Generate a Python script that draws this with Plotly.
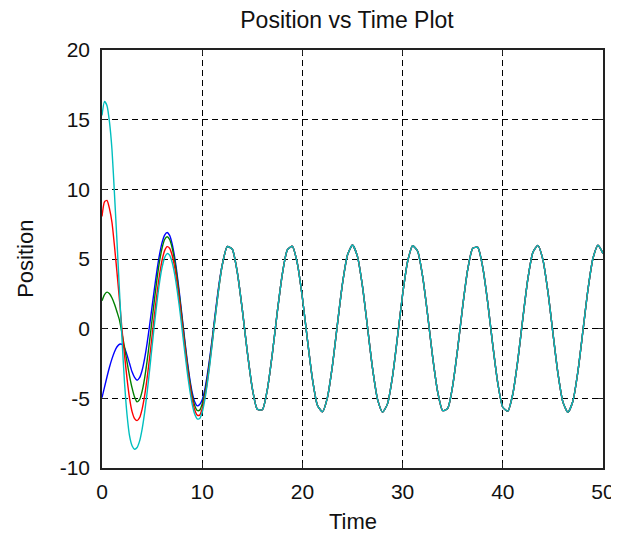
import numpy as np
import plotly.graph_objects as go

# sample times
t_head = [round(0.25 * i, 2) for i in range(48)]        # 0 .. 11.75
t_tail = [round(12.0 + 0.5 * i, 2) for i in range(77)]  # 12 .. 50

# transient part of each run (step 0.25)
blue_head = [-4.95, -4.2, -3.45, -2.75, -2.15, -1.65, -1.3, -1.12,
             -1.12, -1.4, -1.9, -2.5, -3.1, -3.5, -3.7, -3.52,
             -3.0, -2.15, -1.05, 0.23, 1.6, 2.97, 4.25, 5.35,
             6.19, 6.72, 6.9, 6.69, 6.09, 5.13, 3.88, 2.41,
             0.84, -0.75, -2.25, -3.55, -4.58, -5.25, -5.54, -5.45,
             -5.1, -4.4, -3.35, -2.1, -0.7, 0.8, 2.25, 3.55]
green_head = [2.0, 2.45, 2.62, 2.5, 2.2, 1.75, 1.2, 0.6,
              -0.35, -1.35, -2.4, -3.4, -4.25, -4.9, -5.25, -5.1,
              -4.5, -3.56, -2.33, -0.89, 0.65, 2.19, 3.63, 4.86,
              5.8, 6.4, 6.6, 6.4, 5.81, 4.88, 3.66, 2.22,
              0.67, -0.91, -2.41, -3.72, -4.79, -5.51, -5.87, -5.85,
              -5.4, -4.65, -3.6, -2.3, -0.85, 0.65, 2.1, 3.45]
red_head = [8.05, 9.1, 9.2, 8.6, 7.6, 5.9, 4.0, 2.0,
            -0.1, -1.9, -3.6, -5.0, -5.95, -6.45, -6.6, -6.39,
            -5.79, -4.83, -3.57, -2.09, -0.51, 1.08, 2.59, 3.89,
            4.93, 5.6, 5.89, 5.77, 5.27, 4.41, 3.25, 1.87,
            0.35, -1.2, -2.68, -3.99, -5.07, -5.82, -6.2, -6.2,
            -5.75, -4.95, -3.85, -2.5, -1.0, 0.55, 2.05, 3.42]
cyan_head = [15.3, 16.3, 16.0, 14.8, 12.8, 9.6, 6.2, 2.6,
             -0.8, -3.9, -6.2, -7.7, -8.4, -8.65, -8.53, -8.07,
             -7.22, -6.04, -4.6, -2.97, -1.26, 0.43, 2.0, 3.35,
             4.41, 5.1, 5.39, 5.27, 4.77, 3.92, 2.77, 1.41,
             -0.09, -1.62, -3.07, -4.36, -5.41, -6.13, -6.47, -6.45,
             -6.0, -5.15, -4.0, -2.65, -1.1, 0.5, 2.0, 3.4]

# common steady-state part (all four runs coincide, step 0.5)
steady_tail = [4.57, 5.89, 5.70, 4.06, 1.38, -1.66, -4.28, -5.79, -5.82, -4.37,
               -1.80, 1.23, 3.94, 5.65, 5.91, 4.67, 2.22, -0.79, -3.60, -5.49,
               -5.97, -4.93, -2.63, 0.35, 3.23, 5.29, 6.00, 5.17, 3.02, 0.10,
               -2.85, -5.07, -5.99, -5.38, -3.40, -0.54, 2.45, 4.82, 5.95, 5.56,
               3.75, 0.98, -2.04, -4.53, -5.88, -5.72, -4.09, -1.42, 1.62, 4.25,
               5.77, 5.83, 4.40, 1.85, -1.18, -3.91, -5.64, -5.92, -4.69, -2.26,
               0.74, 3.57, 5.47, 5.98, 4.96, 2.67, -0.30, -3.19, -5.27, -6.00,
               -5.19, -3.05, -0.14, 2.81, 5.05, 5.99, 5.40]

x_ticks = [0, 10, 20, 30, 40, 50]
x_labels = ["0", "10", "20", "30", "40", "50"]
y_ticks = [-10, -5, 0, 5, 10, 15, 20]
y_labels = ["-10", "-5", "0", "5", "10", "15", "20"]

times = t_head + t_tail
series = [
    (blue_head, "#0000ff"),
    (green_head, "#008000"),
    (red_head, "#ff0000"),
    (cyan_head, "#00bfbf"),
]

fig = go.Figure()
for head, color in series:
    fig.add_trace(go.Scatter(
        x=times, y=head + steady_tail, mode="lines",
        line=dict(color=color, width=1.4, shape="spline", smoothing=0.6),
        showlegend=False, hoverinfo="skip"))

font = "Liberation Sans, Arial, sans-serif"
axis_common = dict(
    showline=True, linecolor="#222222", linewidth=1.6, mirror="ticks",
    ticks="inside", ticklen=5, tickcolor="#222222", tickwidth=1.2,
    showgrid=True, gridcolor="black", gridwidth=1.4, griddash="6px,4px",
    zeroline=False, automargin=False,
    tickfont=dict(family=font, size=21, color="#111111"),
)
fig.update_xaxes(range=[0, 50], tickvals=x_ticks, ticktext=x_labels,
                 ticklabelstandoff=4, **axis_common)
fig.update_yaxes(range=[-10, 20], tickvals=y_ticks, ticktext=y_labels,
                 ticklabelstandoff=6, **axis_common)

# the page adds an 8px body margin, so the figure is sized/placed to compensate
W, H = 611, 533
label_font = dict(family=font, size=22, color="#111111")
fig.add_annotation(text="Time", xref="paper", yref="paper", x=0.5, y=-0.129,
                   xanchor="center", yanchor="middle", showarrow=False, font=label_font)
fig.add_annotation(text="Position", xref="paper", yref="paper", x=-0.154, y=0.5,
                   xanchor="center", yanchor="middle", showarrow=False, textangle=-90,
                   font=label_font)
fig.update_layout(
    width=W, height=H,
    margin=dict(l=94, r=16, t=42, b=73),
    paper_bgcolor="white", plot_bgcolor="white",
    title=dict(text="Position vs Time Plot", x=339 / W, xanchor="center",
               y=1 - 12 / H, yanchor="middle",
               font=dict(family=font, size=23, color="#111111")),
)
fig.write_html("out.html")
